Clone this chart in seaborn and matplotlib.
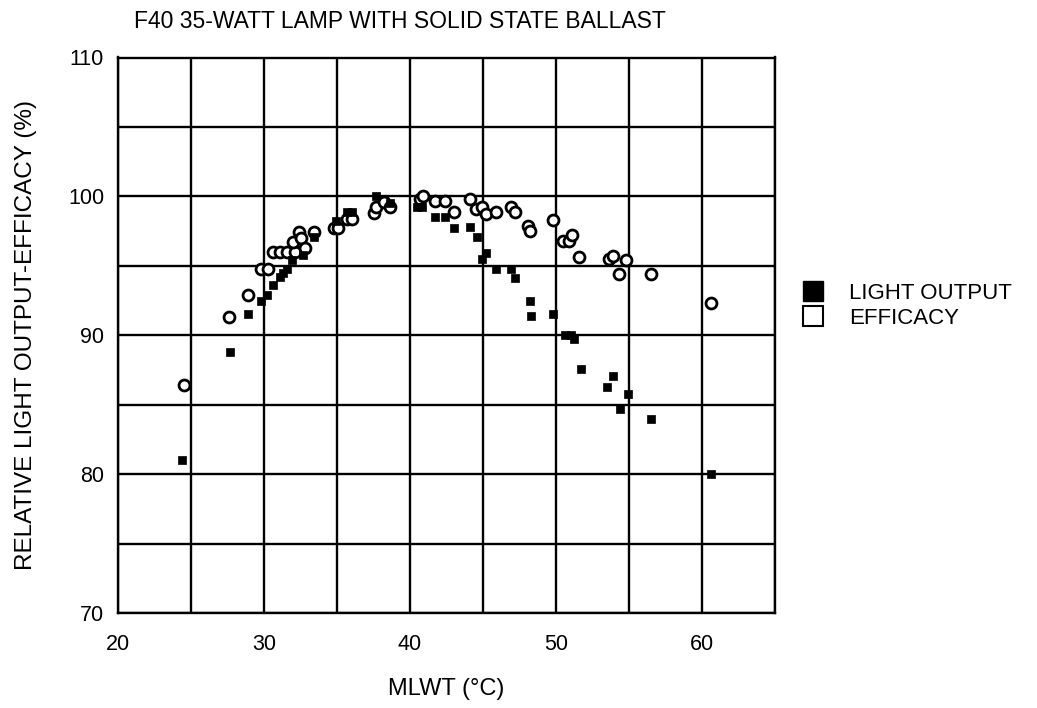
import matplotlib
matplotlib.use("Agg")
import matplotlib.pyplot as plt
from matplotlib.lines import Line2D
import seaborn as sns
import pandas as pd

# ---- data ----
light_x = [24.4, 27.7, 28.9, 29.8, 30.2, 30.6, 31.1, 31.3, 31.6, 31.9, 32.7, 33.4,
           34.9, 35.7, 36.0, 37.7, 38.6, 40.5, 40.8, 41.7, 42.4, 43.0, 44.1, 44.6,
           44.9, 45.2, 45.9, 46.9, 47.2, 48.2, 48.3, 49.8, 50.6, 51.0, 51.2, 51.7,
           53.5, 53.9, 54.4, 54.9, 56.5, 60.6]
light_y = [81.0, 88.8, 91.5, 92.5, 92.9, 93.6, 94.2, 94.5, 94.8, 95.4, 95.8, 97.1,
           98.2, 98.9, 98.9, 100.0, 99.5, 99.2, 99.2, 98.5, 98.5, 97.7, 97.8, 97.1,
           95.5, 95.9, 94.8, 94.8, 94.1, 92.5, 91.4, 91.5, 90.0, 90.0, 89.7, 87.6,
           86.3, 87.1, 84.7, 85.8, 84.0, 80.0]

eff_x = [24.5, 27.6, 28.9, 29.8, 30.3, 30.6, 31.1, 31.6, 32.1, 32.0, 32.4, 32.5,
         32.8, 33.4, 34.8, 35.1, 35.7, 36.0, 37.5, 37.7, 38.2, 38.6, 40.7, 40.9,
         41.7, 42.4, 43.0, 44.1, 44.5, 44.9, 45.2, 45.9, 46.9, 47.2, 48.1, 48.2,
         49.8, 50.5, 50.9, 51.1, 51.6, 53.6, 53.9, 54.3, 54.8, 56.5, 60.6]
eff_y = [86.4, 91.3, 92.9, 94.8, 94.8, 96.0, 96.0, 96.0, 96.0, 96.7, 97.4, 97.0,
         96.3, 97.4, 97.7, 97.7, 98.4, 98.4, 98.8, 99.2, 99.6, 99.2, 99.8, 100.0,
         99.7, 99.7, 98.9, 99.8, 99.1, 99.2, 98.7, 98.9, 99.2, 98.9, 97.9, 97.5,
         98.3, 96.8, 96.8, 97.2, 95.6, 95.5, 95.7, 94.4, 95.4, 94.4, 92.3]

series_labels = ["LIGHT OUTPUT", "EFFICACY"]
title = "F40 35-WATT LAMP WITH SOLID STATE BALLAST"
xlabel = "MLWT (°C)"
ylabel = "RELATIVE LIGHT OUTPUT-EFFICACY (%)"
xticks_major = [20, 30, 40, 50, 60]
yticks_major = [70, 80, 90, 100, 110]

# ---- style ----
sns.set_style("white")
plt.rcParams["font.family"] = ["Liberation Sans", "DejaVu Sans"]
plt.rcParams["text.color"] = "black"
plt.rcParams["axes.labelcolor"] = "black"
plt.rcParams["xtick.color"] = "black"
plt.rcParams["ytick.color"] = "black"

fig = plt.figure(figsize=(10.37, 7.08), dpi=100)
ax = fig.add_axes([118 / 1037, 1 - 613 / 708, (775 - 118) / 1037, (613 - 57.5) / 708])

light_df = pd.DataFrame({"x": light_x, "y": light_y})
eff_df = pd.DataFrame({"x": eff_x, "y": eff_y})

sns.scatterplot(data=eff_df, x="x", y="y", ax=ax, marker="o", s=62,
                facecolor="white", edgecolor="black", linewidth=2.0, zorder=3)
sns.scatterplot(data=light_df, x="x", y="y", ax=ax, marker="s", s=34,
                color="black", edgecolor="black", linewidth=0.5, zorder=4)

ax.set_xlim(20, 65)
ax.set_ylim(70, 110)
ax.set_xticks(xticks_major)
ax.set_xticks(list(range(25, 66, 10)), minor=True)
ax.set_yticks(yticks_major)
ax.set_yticks(list(range(75, 110, 10)), minor=True)
ax.tick_params(which="both", length=0)
ax.tick_params(axis="x", pad=15, labelsize=15.5)
ax.tick_params(axis="y", pad=10, labelsize=15.5)
ax.grid(True, which="both", color="black", linewidth=1.7)
ax.set_axisbelow(True)
for sp in ax.spines.values():
    sp.set_color("black")
    sp.set_linewidth(1.7)

ax.set_xlabel(xlabel, fontsize=17, labelpad=17)
ax.set_ylabel(ylabel, fontsize=17.5, labelpad=22)

fig.text(400 / 1037, 1 - 22 / 708, title, fontsize=16.5, ha="center", va="center")

handles = [
    Line2D([], [], marker="s", linestyle="none", markersize=14,
           markerfacecolor="black", markeredgecolor="black"),
    Line2D([], [], marker="s", linestyle="none", markersize=14,
           markerfacecolor="white", markeredgecolor="black", markeredgewidth=1.5),
]
fig.legend(handles, series_labels, loc="center left",
           bbox_to_anchor=(780 / 1037, 1 - 306 / 708), frameon=False,
           fontsize=16, handlelength=1.2, handletextpad=1.0, labelspacing=0.2)

fig.savefig("out.png", dpi=100)
